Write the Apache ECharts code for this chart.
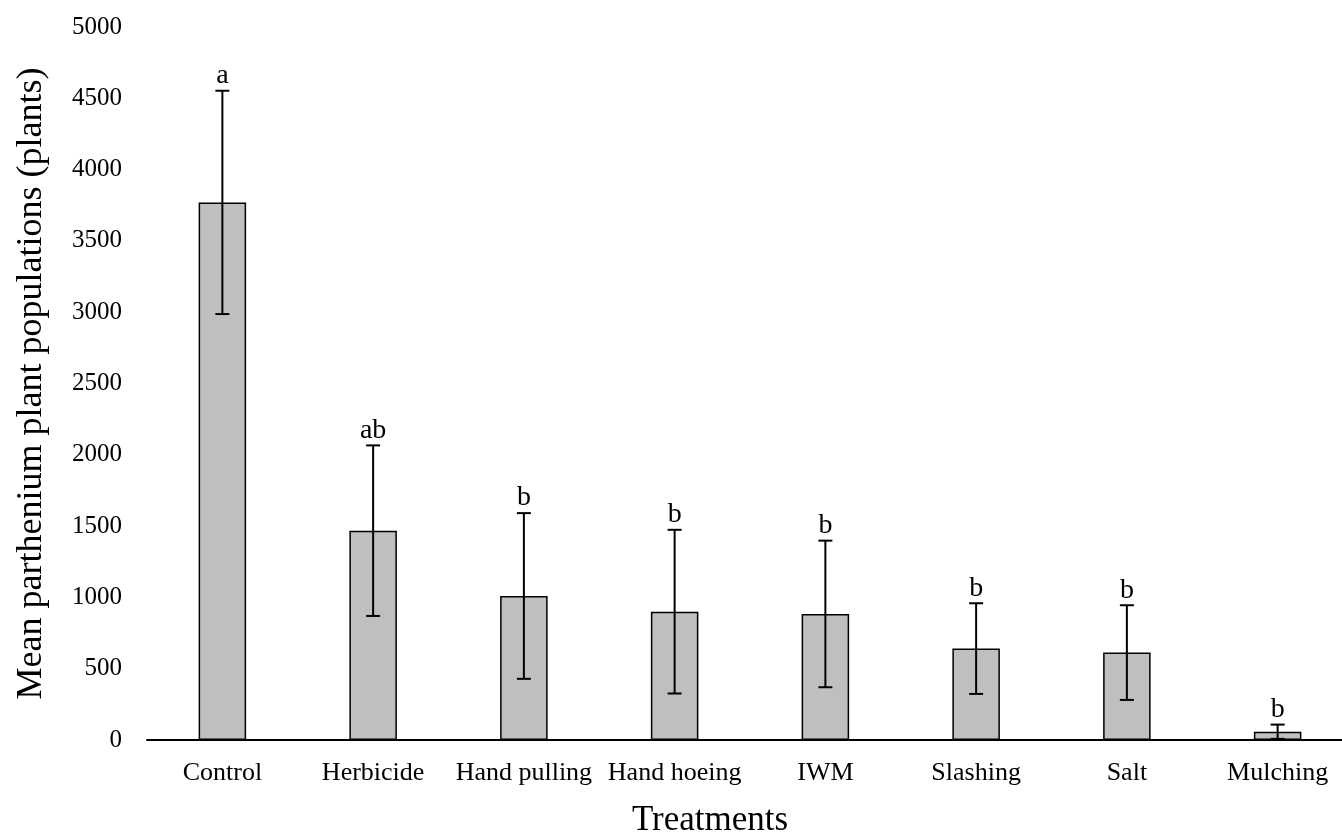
<!DOCTYPE html>
<html>
<head>
<meta charset="utf-8">
<script src="https://cdn.jsdelivr.net/npm/echarts@6/dist/echarts.min.js"></script>
<style>
html,body{margin:0;padding:0;background:#fff;}
#chart{width:1342px;height:837px;}
</style>
</head>
<body>
<div id="chart"></div>
<script>
var categories = ['Control', 'Herbicide', 'Hand pulling', 'Hand hoeing', 'IWM', 'Slashing', 'Salt', 'Mulching'];
var means = [3770, 1468, 1010, 900, 884, 641, 613, 58];
var errors = [783, 598, 581, 574, 514, 318, 332, 50];
var letters = ['a', 'ab', 'b', 'b', 'b', 'b', 'b', 'b'];
var yTicks = { min: 0, max: 5000, interval: 500 };

var FONT = '"Liberation Serif", "DejaVu Serif", serif';

var errData = categories.map(function (c, i) {
  return [i, means[i] - errors[i], means[i] + errors[i], letters[i]];
});

var chart = echarts.init(document.getElementById('chart'), null, { renderer: 'canvas' });
chart.setOption({
  backgroundColor: '#ffffff',
  animation: false,
  grid: { left: 147, top: 27, width: 1206, height: 713, containLabel: false, outerBoundsMode: 'none' },
  xAxis: {
    type: 'category',
    data: categories,
    name: 'Treatments',
    nameLocation: 'middle',
    nameGap: 63,
    nameTextStyle: { fontFamily: FONT, fontSize: 35, color: '#000', padding: [0, 80, 0, 0] },
    axisLine: { show: true, lineStyle: { color: '#000', width: 2 } },
    axisTick: { show: false },
    axisLabel: { fontFamily: FONT, fontSize: 26, color: '#000', margin: 20, interval: 0 },
    splitLine: { show: false }
  },
  yAxis: {
    type: 'value',
    min: yTicks.min,
    max: yTicks.max,
    interval: yTicks.interval,
    name: 'Mean parthenium plant populations (plants)',
    nameLocation: 'middle',
    nameGap: 97,
    nameTextStyle: { fontFamily: FONT, fontSize: 36, color: '#000' },
    axisLine: { show: false },
    axisTick: { show: false },
    axisLabel: {
      fontFamily: FONT, fontSize: 25, color: '#000', margin: 25,
      formatter: function (v) { return String(v); }
    },
    splitLine: { show: false }
  },
  series: [
    {
      type: 'bar',
      data: means,
      barWidth: 47.5,
      itemStyle: { color: '#bfbfbf', borderColor: '#000', borderWidth: 1.5 },
      z: 2
    },
    {
      type: 'custom',
      data: errData,
      z: 5,
      renderItem: function (params, api) {
        var x = api.value(0);
        var lo = api.coord([x, api.value(1)]);
        var hi = api.coord([x, api.value(2)]);
        var half = 7;
        var style = { stroke: '#000', lineWidth: 2 };
        return {
          type: 'group',
          children: [
            { type: 'line', shape: { x1: hi[0], y1: hi[1], x2: lo[0], y2: lo[1] }, style: style },
            { type: 'line', shape: { x1: hi[0] - half, y1: hi[1], x2: hi[0] + half, y2: hi[1] }, style: style },
            { type: 'line', shape: { x1: lo[0] - half, y1: lo[1], x2: lo[0] + half, y2: lo[1] }, style: style },
            {
              type: 'text',
              style: {
                text: api.value(3),
                x: hi[0], y: hi[1] - 1,
                align: 'center', verticalAlign: 'bottom',
                fontFamily: FONT, fontSize: 28, fill: '#000'
              }
            }
          ]
        };
      }
    }
  ]
});
</script>
</body>
</html>
